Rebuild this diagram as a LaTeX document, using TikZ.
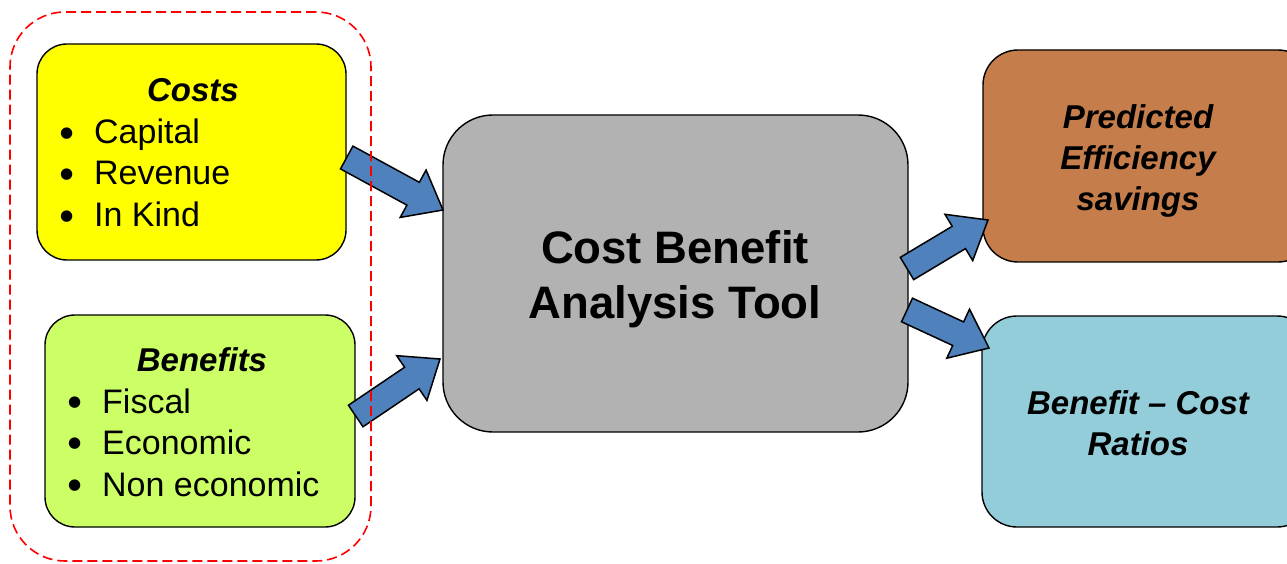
\documentclass[tikz,border=0pt]{standalone}
\usepackage{fontspec}
\setmainfont{Liberation Sans}
\newfontfamily\symfont{DejaVu Sans}
\usetikzlibrary{calc}
\definecolor{costy}{HTML}{FFFF00}
\definecolor{beng}{HTML}{CCFF66}
\definecolor{toolg}{HTML}{B2B2B2}
\definecolor{predb}{HTML}{C47D4B}
\definecolor{ratioc}{HTML}{93CDDA}
\definecolor{arrowb}{HTML}{4F81BD}
\newcommand{\blockarrow}[2]{%
  \coordinate (hc) at ($(#2)!34pt!(#1)$);
  \filldraw[arrowstyle]
    ($(#1)!13pt!90:(#2)$) -- ($(hc)!13pt!90:(#2)$) -- ($(hc)!27pt!90:(#2)$) --
    (#2) -- ($(hc)!27pt!-90:(#2)$) -- ($(hc)!13pt!-90:(#2)$) --
    ($(#1)!13pt!-90:(#2)$) -- cycle;}
\newcommand{\bul}{\makebox[34pt][l]{\raisebox{6.5pt}{\symfont\fontsize{15}{15}\selectfont ●}}}
\tikzset{
  box/.style={draw=black, line width=1.4pt, inner sep=0pt},
  arrowstyle/.style={fill=arrowb, draw=black, line width=1.5pt, line join=miter},
  txt/.style={inner sep=0pt, anchor=base, font=\fontsize{33}{40}\selectfont},
  ttl/.style={txt, font=\fontsize{33}{40}\selectfont\bfseries\itshape},
  item/.style={inner sep=0pt, anchor=base west, font=\fontsize{34}{40}\selectfont},
  bigtxt/.style={inner sep=0pt, anchor=base, font=\fontsize{45.5}{54}\selectfont\bfseries},
  group/.style={draw=red, line width=1.6pt, dash pattern=on 10pt off 5pt, rounded corners=55pt}
}
\begin{document}
\begin{tikzpicture}[x=1pt, y=1pt]
\useasboundingbox (0,0) rectangle (1287,563);
\clip (0,0) rectangle (1287,563);
% boxes
\node[box, fill=costy, rounded corners=30pt, minimum width=309pt, minimum height=216pt] (costs) at (191.5,411) {};
\node[box, fill=beng, rounded corners=30pt, minimum width=310pt, minimum height=212pt] (bens) at (200,142) {};
\node[box, fill=toolg, rounded corners=50pt, minimum width=465pt, minimum height=317pt] (tool) at (675.5,289.5) {};
\node[box, fill=predb, rounded corners=35pt, minimum width=330pt, minimum height=212pt] (pred) at (1148,407) {};
\node[box, fill=ratioc, rounded corners=35pt, minimum width=330pt, minimum height=211pt] (ratio) at (1147,141.5) {};
% texts
\node[ttl] (tcosts) at (193,461) {Costs};
\node[item] (i1) at (60,419) {\bul Capital};
\node[item] (i2) at (60,378) {\bul Revenue};
\node[item] (i3) at (60,336) {\bul In Kind};
\node[ttl] (tbens) at (202,192) {Benefits};
\node[item] (j1) at (68,150) {\bul Fiscal};
\node[item] (j2) at (68,109) {\bul Economic};
\node[item] (j3) at (68,67) {\bul Non economic};
\node[bigtxt] (tt1) at (675,299) {Cost Benefit};
\node[bigtxt] (tt2) at (675,245) {Analysis Tool};
\node[ttl] (p1) at (1138,434) {Predicted};
\node[ttl] (p2) at (1138,393) {Efficiency};
\node[ttl] (p3) at (1138,352) {savings};
\node[ttl] (r1) at (1138,149) {Benefit – Cost};
\node[ttl] (r2) at (1138,108) {Ratios};
% arrows
\coordinate (a1s) at ($(costs.east)+(0,-5.5)$);
\coordinate (a1e) at (443,353);
\coordinate (a2s) at ($(bens.east)+(0,5)$);
\coordinate (a2e) at (440,204);
\coordinate (a3s) at (907,294.5);
\coordinate (a3e) at (988,343);
\coordinate (a4s) at (907,253);
\coordinate (a4e) at (989,215);
\blockarrow{a1s}{a1e}
\blockarrow{a2s}{a2e}
\blockarrow{a3s}{a3e}
\blockarrow{a4s}{a4e}
% dashed group
\node[group, minimum width=361pt, minimum height=549pt, inner sep=0pt] (grp) at (190.5,276.5) {};
\end{tikzpicture}
\end{document}
